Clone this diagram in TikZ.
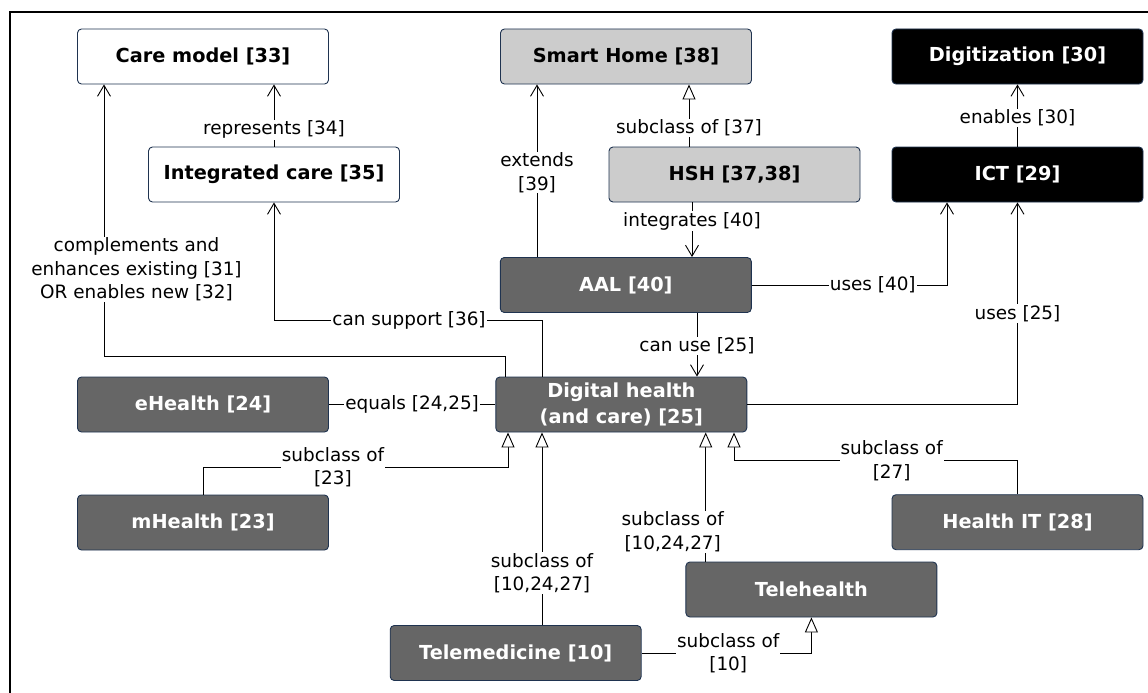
\documentclass[tikz,border=0pt]{standalone}
\usepackage{fontspec}
\setmainfont{DejaVu Sans}
\usetikzlibrary{arrows.meta}
\definecolor{boxdark}{HTML}{666666}
\definecolor{boxlight}{HTML}{CCCCCC}
\definecolor{boxedge}{HTML}{1F3350}
\begin{document}
\begin{tikzpicture}[x=1pt,y=-1pt,
 box/.style={draw=boxedge, line width=0.9pt, rounded corners=4pt, minimum width=251pt, minimum height=55pt, inner sep=0pt, align=center, font=\fontsize{19.3}{25.6}\selectfont\bfseries},
 darkbox/.style={box, fill=boxdark, text=white},
 lightbox/.style={box, fill=boxlight, text=black},
 whitebox/.style={box, fill=white, text=black},
 blackbox/.style={box, fill=black, text=white},
 lbl/.style={fill=white, inner sep=1pt, text=black, align=center, font=\fontsize{18.4}{23.5}\selectfont},
 conn/.style={draw=black, line width=0.9pt},
 dep/.style={conn, -{Straight Barb[length=11pt,width=13pt,line width=0.9pt]}},
 gen/.style={conn, -{Triangle[open,length=15pt,width=13pt,fill=white,line width=0.9pt]}},
]
\useasboundingbox (0,0) rectangle (1148,693);
\clip (0,0) rectangle (1148,693);
\draw[line width=2pt] (10,700) -- (10,12) -- (1150,12);

\node[whitebox] (care) at (203,56.5) {Care model [33]};
\node[whitebox] (integ) at (274,174.5) {Integrated care [35]};
\node[lightbox] (smart) at (626,56.5) {Smart Home [38]};
\node[lightbox] (hsh) at (734.5,174.5) {HSH [37,38]};
\node[blackbox] (digit) at (1017.5,56.5) {Digitization [30]};
\node[blackbox] (ict) at (1017.5,174.5) {ICT [29]};
\node[darkbox] (aal) at (625.8,285) {AAL [40]};
\node[darkbox] (dh) at (621.3,404.5) {Digital health\\(and care) [25]};
\node[darkbox] (ehealth) at (203,404.5) {eHealth [24]};
\node[darkbox] (mhealth) at (203,522.5) {mHealth [23]};
\node[darkbox] (healthit) at (1017.5,522.2) {Health IT [28]};
\node[darkbox] (telehealth) at (811.4,589.5) {Telehealth};
\node[darkbox] (telemed) at (515.7,653) {Telemedicine [10]};

\draw[dep] (integ.north) -- (integ.north |- care.south) node[lbl,pos=0.27] (lrep) {represents [34]};
\draw[dep] ([xshift=-115.6pt]dh.north) -- ++(0,-20) -| ([xshift=-99pt]care.south) node[lbl,pos=0.66,xshift=32.5pt] (lcomp) {complements and\\enhances existing [31]\\OR enables new [32]};
\draw[dep] ([xshift=-79.3pt]dh.north) -- ++(0,-56) -| (integ.south) node[lbl,pos=0.248] (lsup) {can support [36]};
\draw[conn] (dh.west) -- (ehealth.east) node[lbl,pos=0.5] (leq) {equals [24,25]};
\draw[dep] (dh.east) -| (ict.south) node[lbl,pos=0.725] (luse25) {uses [25]};
\draw[dep] (aal.east) -| ([xshift=-70.5pt]ict.south) node[lbl,pos=0.31] (luse40) {uses [40]};
\draw[dep] ([xshift=71.2pt]aal.south) -- ([xshift=71.2pt]aal.south |- dh.north) node[lbl,pos=0.52] (lcanuse) {can use [25]};
\draw[dep] ([xshift=-42.5pt]hsh.south) -- ([xshift=-42.5pt]hsh.south |- aal.north) node[lbl,pos=0.34] (lint) {integrates [40]};
\draw[dep] ([xshift=-88.8pt]aal.north) -- ([xshift=-88.8pt]aal.north |- smart.south) node[lbl,pos=0.49] (lext) {extends\\{}[39]};
\draw[gen] ([xshift=-45.5pt]hsh.north) -- ([xshift=-45.5pt]hsh.north |- smart.south) node[lbl,pos=0.30] (lsub37) {subclass of [37]};
\draw[dep] (ict.north) -- (digit.south) node[lbl,pos=0.46] (lena) {enables [30]};
\draw[gen] (mhealth.north) -- ++(0,-27.3) -| ([xshift=-113.3pt]dh.south) node[lbl,pos=0.213] (lsub23) {subclass of\\{}[23]};
\draw[gen] ([xshift=26.3pt]telemed.north) -- ([xshift=26.3pt]telemed.north |- dh.south) node[lbl,pos=0.27] (lsubtm) {subclass of\\{}[10,24,27]};
\draw[gen] ([xshift=-105.7pt]telehealth.north) -- ([xshift=-105.7pt]telehealth.north |- dh.south) node[lbl,pos=0.23,xshift=-33pt] (lsubth) {subclass of\\{}[10,24,27]};
\draw[gen] (healthit.north) -- ++(0,-33.4) -| ([xshift=112.7pt]dh.south) node[lbl,pos=0.222] (lsub27) {subclass of\\{}[27]};
\draw[gen] (telemed.east) -| (telehealth.south) node[lbl,pos=0.255] (lsub10) {subclass of\\{}[10]};
\end{tikzpicture}
\end{document}
